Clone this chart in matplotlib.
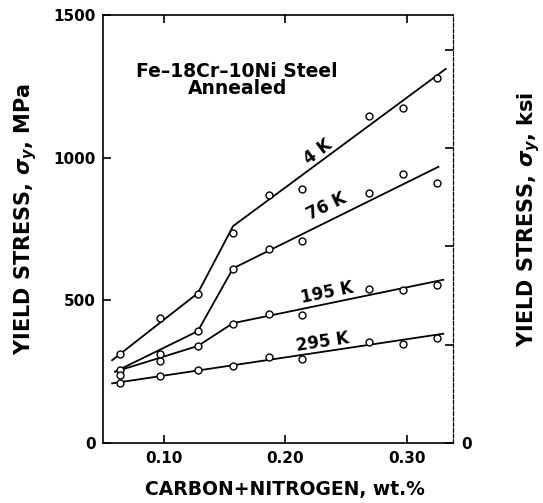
import matplotlib
matplotlib.use("Agg")
import matplotlib.pyplot as plt

# Carbon + nitrogen content (wt.%) of the tested heats
carbon_nitrogen = [0.064, 0.097, 0.128, 0.157, 0.187, 0.214, 0.269, 0.297, 0.325]

# Measured yield stress (MPa) at each test temperature
ys_4k = [311, 438, 523, 737, 870, 891, 1147, 1175, 1280]
ys_76k = [255, 313, 392, 611, 679, 708, 877, 944, 912]
ys_195k = [240, 287, 339, 418, 453, 447, 541, 537, 553]
ys_295k = [211, 235, 255, 270, 301, 296, 354, 348, 369]

# Piecewise trend lines drawn through each data set
fit_4k_x = [0.0575, 0.128, 0.157, 0.332]
fit_4k_y = [290, 525, 760, 1311]
fit_76k_x = [0.060, 0.128, 0.157, 0.326]
fit_76k_y = [250, 392, 612, 968]
fit_195k_x = [0.060, 0.128, 0.157, 0.330]
fit_195k_y = [250, 340, 420, 572]
fit_295k_x = [0.0575, 0.330]
fit_295k_y = [209, 383]

temperature_labels = ["4 K", "76 K", "195 K", "295 K"]

x_ticks = [0.10, 0.20, 0.30]
x_tick_labels = ["0.10", "0.20", "0.30"]
y_ticks = [0, 500, 1000, 1500]
ksi_ticks = [0, 50, 100, 150, 200]
MPA_PER_KSI = 6.895

plt.rcParams["font.family"] = ["DejaVu Sans"]
plt.rcParams["font.weight"] = "bold"
plt.rcParams["mathtext.fontset"] = "dejavusans"

fig = plt.figure(figsize=(5.43, 5.03), dpi=100)
ax = fig.add_axes([103 / 543, 60 / 503, 350 / 543, 428 / 503])

series = [
    (ys_4k, fit_4k_x, fit_4k_y),
    (ys_76k, fit_76k_x, fit_76k_y),
    (ys_195k, fit_195k_x, fit_195k_y),
    (ys_295k, fit_295k_x, fit_295k_y),
]
for ys, fx, fy in series:
    ax.plot(fx, fy, color="black", lw=1.3, zorder=2)
    ax.plot(carbon_nitrogen, ys, linestyle="none", marker="o", ms=5,
            mfc="white", mec="black", mew=1.0, zorder=3)

# Temperature labels set along the trend lines
label_pos = [(0.227, 1020, 37), (0.234, 828, 26), (0.234, 527, 11.5), (0.231, 355, 8.6)]
for text, (lx, ly, rot) in zip(temperature_labels, label_pos):
    ax.text(lx, ly, text, rotation=rot, ha="center", va="center",
            fontsize=12, fontweight="bold", rotation_mode="anchor")

ax.text(0.1605, 1272, "Fe\u201318Cr\u201310Ni Steel\nAnnealed", ha="center", va="center",
        fontsize=13.5, fontweight="bold", linespacing=0.85)

ax.set_xlim(0.050, 0.338)
ax.set_ylim(0, 1500)
ax.set_xticks(x_ticks)
ax.set_xticklabels(x_tick_labels)
ax.set_yticks(y_ticks)
ax.tick_params(direction="in", length=6, width=1.2, labelsize=11, top=True, pad=6)
ax.tick_params(axis="y", pad=5)
for lab in ax.get_xticklabels() + ax.get_yticklabels():
    lab.set_fontweight("bold")

for side in ["left", "bottom", "top"]:
    ax.spines[side].set_linewidth(1.2)
ax.spines["right"].set_visible(False)

# Secondary scale in ksi on the right
ax2 = ax.twinx()
ax2.set_ylim(0, 1500 / MPA_PER_KSI)
ax2.set_yticks(ksi_ticks)
ax2.set_yticklabels(["0"] + [""] * (len(ksi_ticks) - 1))
ax2.tick_params(direction="in", length=6, width=1.2, labelsize=11, pad=6)
for side in ["left", "bottom", "top"]:
    ax2.spines[side].set_visible(False)
ax2.spines["right"].set_linewidth(0.9)
ax2.spines["right"].set_linestyle((0, (3, 1.5)))

fig.text(285 / 543, 1 - 490 / 503, "CARBON+NITROGEN, wt.%", ha="center", va="center",
         fontsize=13.5, fontweight="bold")
fig.text(26 / 543, 1 - 219 / 503, "YIELD STRESS, $\\sigma_y$, MPa", ha="center", va="center",
         rotation=90, fontsize=15, fontweight="bold")
fig.text(529 / 543, 1 - 219 / 503, "YIELD STRESS, $\\sigma_y$, ksi", ha="center", va="center",
         rotation=90, fontsize=15, fontweight="bold")

fig.savefig("out.png", dpi=100)
